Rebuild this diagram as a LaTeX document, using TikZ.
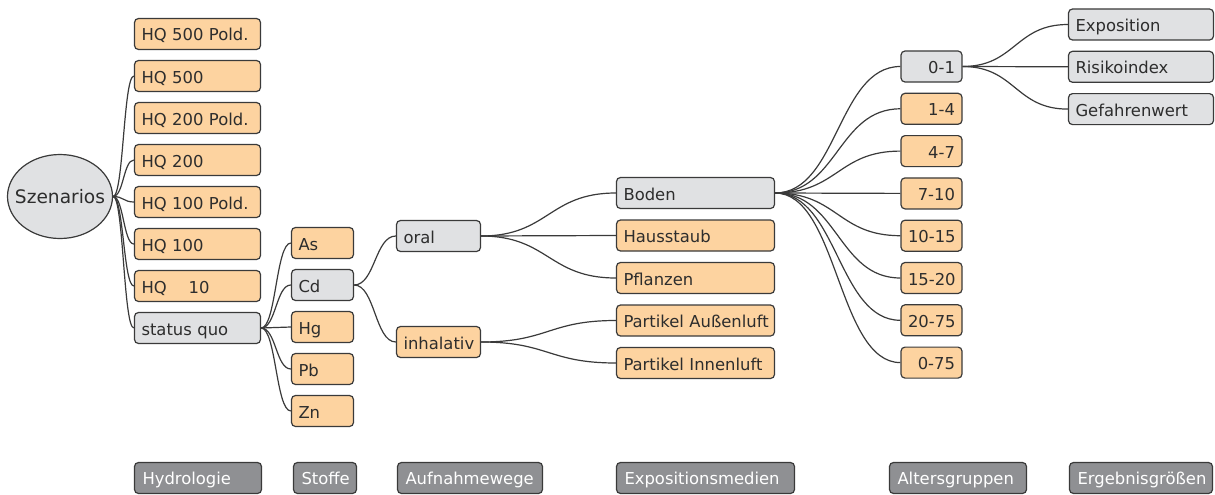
\documentclass[tikz,border=0pt]{standalone}
\usepackage{fontspec}
\setmainfont{DejaVu Sans}
\usetikzlibrary{positioning,chains,shapes,calc}

\definecolor{boxorange}{RGB}{253,211,160}
\definecolor{boxgrey}{RGB}{224,225,227}
\definecolor{labelgrey}{RGB}{143,144,147}
\definecolor{linegrey}{RGB}{58,58,58}
\definecolor{textgrey}{RGB}{45,45,45}

% no hyphenation inside the fixed width boxes
\hyphenpenalty=10000
\exhyphenpenalty=10000

\begin{document}
\begin{tikzpicture}[
x=1pt,y=-1pt,
line width=1.2pt,
font=\fontsize{16.4}{19.7}\selectfont,
box/.style={draw=linegrey,rounded corners=4pt,text=textgrey,minimum height=31pt,
  inner xsep=7pt,inner ysep=0pt,text height=14pt,text depth=0pt,align=left,text width=#1},
hot/.style={box=#1,fill=boxorange},
cold/.style={box=#1,fill=boxgrey},
age/.style={hot=47pt,align=right},
agesel/.style={cold=47pt,align=right},
legend/.style={draw=linegrey,rounded corners=4pt,fill=labelgrey,text=white,minimum height=31pt,
  inner xsep=8pt,inner ysep=0pt,text height=12pt,text depth=0pt,align=left,text width=#1},
branch/.style={draw=linegrey,to path={let \p1=(\tikztostart),\p2=(\tikztotarget) in
  .. controls ({(\x1+\x2)/2},\y1) and ({(\x1+\x2)/2},\y2) .. (\tikztotarget)}},
]
\useasboundingbox (0,0) rectangle (1215,495);

\node[ellipse,draw=linegrey,fill=boxgrey,minimum width=105pt,minimum height=84pt,
  inner xsep=-9pt,inner ysep=0pt,text=textgrey,font=\fontsize{18.6}{22}\selectfont]
  (szen) at (60,196.5) {Szenarios};

% hydrology
\begin{scope}[start chain=going below,node distance=9.8pt]
\node[on chain,hot=112pt] (hq500p) at (197.5,34) {HQ 500 Pold.};
\node[on chain,hot=112pt] (hq500) {HQ 500};
\node[on chain,hot=112pt] (hq200p) {HQ 200 Pold.};
\node[on chain,hot=112pt] (hq200) {HQ 200};
\node[on chain,hot=112pt] (hq100p) {HQ 100 Pold.};
\node[on chain,hot=112pt] (hq100) {HQ 100};
\node[on chain,hot=112pt] (hq10) {HQ~~~~10};
\node[on chain,cold=112pt] (sq) {status quo};
\end{scope}

% substances
\begin{scope}[start chain=going below,node distance=9.8pt]
\node[on chain,hot=48pt] (as) at (322.5,243) {As};
\node[on chain,cold=48pt] (cd) {Cd};
\node[on chain,hot=48pt] (hg) {Hg};
\node[on chain,hot=48pt] (pb) {Pb};
\node[on chain,hot=48pt] (zn) {Zn};
\end{scope}

% intake paths
\node[cold=70pt] (oral) at (438.5,236) {oral};
\node[hot=70pt] (inhal) at (438.5,342) {inhalativ};

% exposure media
\begin{scope}[start chain=going below,node distance=10.3pt]
\node[on chain,cold=144pt] (boden) at (695.5,193) {Boden};
\node[on chain,hot=144pt] (staub) {Hausstaub};
\node[on chain,hot=144pt] (pflanz) {Pflanzen};
\node[on chain,hot=144pt] (aussen) {\mbox{Partikel Außenluft}};
\node[on chain,hot=144pt] (innen) {\mbox{Partikel Innenluft}};
\end{scope}

% age groups
\begin{scope}[start chain=going below,node distance=10.1pt]
\node[on chain,agesel] (a01) at (931.5,66.5) {0-1};
\node[on chain,age] (a14) {1-4};
\node[on chain,age] (a47) {4-7};
\node[on chain,age] (a710) {7-10};
\node[on chain,age] (a1015) {10-15};
\node[on chain,age] (a1520) {15-20};
\node[on chain,age] (a2075) {20-75};
\node[on chain,age] (a075) {0-75};
\end{scope}

% results
\begin{scope}[start chain=going below,node distance=10.1pt]
\node[on chain,cold=131pt] (expo) at (1141,24.5) {Exposition};
\node[on chain,cold=131pt] (risk) {Risikoindex};
\node[on chain,cold=131pt] (gefahr) {Gefahrenwert};
\end{scope}

% column legend
\node[legend=111pt] (lhyd) at (198,478) {Hydrologie};
\node[legend=47pt] (lstoff) at (325,478) {Stoffe};
\node[legend=129pt] (lweg) at (470,478) {Aufnahmewege};
\node[legend=162pt] (lmed) at (705.5,478) {Expositionsmedien};
\node[legend=121pt] (lalt) at (958,478) {Altersgruppen};
\node[legend=127pt] (lerg) at (1141,478) {Ergebnisgrößen};

% branches
\foreach \t in {hq500,hq200,hq100p,hq100,hq10,sq}
  \draw[branch] (szen.east) to (\t.west);
\foreach \t in {as,cd,hg,pb,zn}
  \draw[branch] (sq.east) to (\t.west);
\draw[branch] (cd.east) to (oral.west);
\draw[branch] (cd.east) to (inhal.west);
\foreach \t in {boden,staub,pflanz}
  \draw[branch] (oral.east) to (\t.west);
\draw[branch] (inhal.east) to (aussen.west);
\draw[branch] (inhal.east) to (innen.west);
\foreach \t in {a01,a14,a47,a710,a1015,a1520,a2075,a075}
  \draw[branch] (boden.east) to (\t.west);
\foreach \t in {expo,risk,gefahr}
  \draw[branch] (a01.east) to (\t.west);

\end{tikzpicture}
\end{document}
